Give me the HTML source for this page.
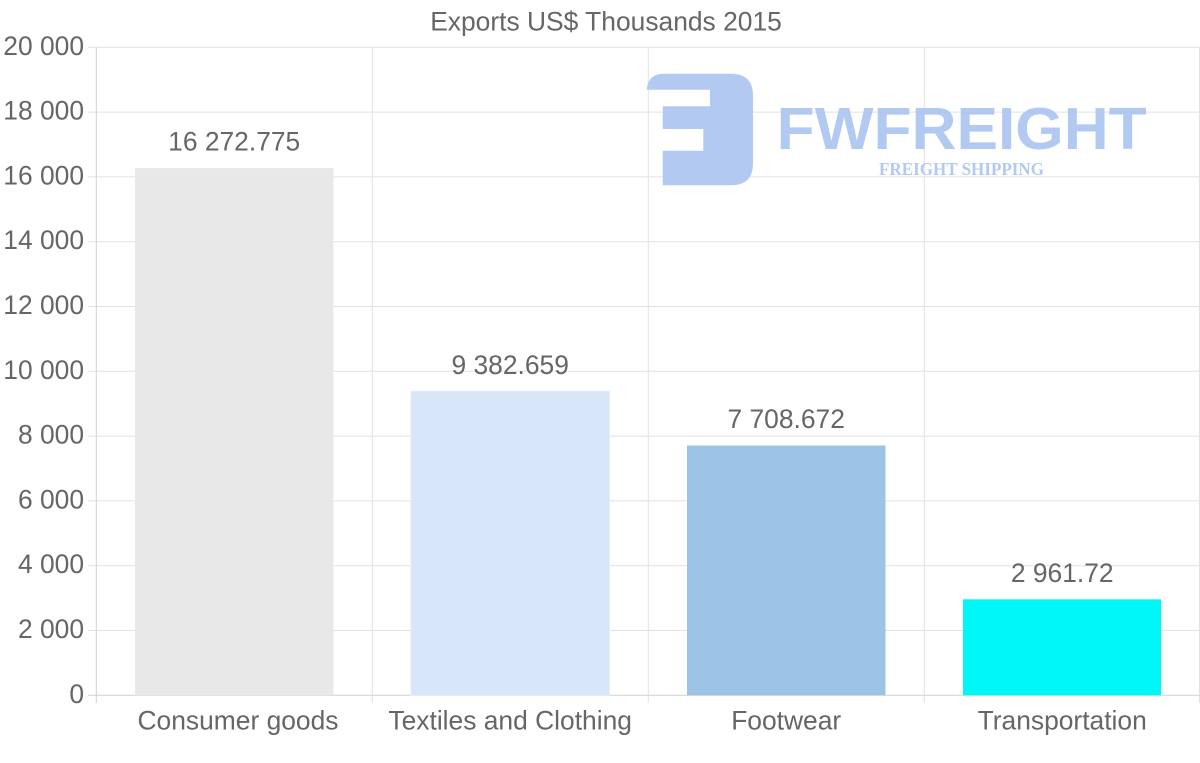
<!DOCTYPE html>
<html>
<head>
<meta charset="utf-8">
<style>
  html, body { margin: 0; padding: 0; background: #fff; }
  svg { display: block; }
  text { font-family: "Liberation Sans", Arial, sans-serif; fill: #666; }
</style>
</head>
<body>
<svg width="1200" height="763" viewBox="0 0 1200 763" xmlns="http://www.w3.org/2000/svg">
  <rect x="0" y="0" width="1200" height="763" fill="#fff"/>

  <!-- Title -->
  <text x="606" y="30.5" font-size="26.4" text-anchor="middle">Exports US$ Thousands 2015</text>

  <!-- Horizontal gridlines -->
  <g stroke="#e2e2e2" stroke-width="1">
    <line x1="88" y1="47.3" x2="1200" y2="47.3"/>
    <line x1="88" y1="112.1" x2="1200" y2="112.1"/>
    <line x1="88" y1="176.9" x2="1200" y2="176.9"/>
    <line x1="88" y1="241.7" x2="1200" y2="241.7"/>
    <line x1="88" y1="306.5" x2="1200" y2="306.5"/>
    <line x1="88" y1="371.3" x2="1200" y2="371.3"/>
    <line x1="88" y1="436.1" x2="1200" y2="436.1"/>
    <line x1="88" y1="500.9" x2="1200" y2="500.9"/>
    <line x1="88" y1="565.7" x2="1200" y2="565.7"/>
    <line x1="88" y1="630.5" x2="1200" y2="630.5"/>
  </g>
  <!-- Vertical gridlines -->
  <g stroke="#e2e2e2" stroke-width="1">
    <line x1="372.3" y1="47.3" x2="372.3" y2="703"/>
    <line x1="648.3" y1="47.3" x2="648.3" y2="703"/>
    <line x1="924.3" y1="47.3" x2="924.3" y2="703"/>
    <line x1="1199.5" y1="47.3" x2="1199.5" y2="703"/>
  </g>
  <!-- Axis lines -->
  <g stroke="#d0d0d0" stroke-width="1">
    <line x1="96.3" y1="47.3" x2="96.3" y2="703"/>
    <line x1="88" y1="695.3" x2="1200" y2="695.3"/>
  </g>

  <!-- Watermark logo -->
  <g opacity="0.95">
    <path d="M646.7,89.7 Q648,73.7 664,73.7 L731,73.7 Q753,73.7 753,95.7 L753,163.3 Q753,185.3 731,185.3 L662.7,185.3 L662.7,150.7 L703.3,150.7 L703.3,129 L662.7,129 L662.7,106.3 L710,106.3 L710,89.7 Z" fill="#aec7f1"/>
    <text x="776.7" y="149" font-size="59" font-weight="bold" textLength="370" lengthAdjust="spacingAndGlyphs" style="fill:#aec7f1">FWFREIGHT</text>
    <text x="879" y="175" font-size="17.5" font-weight="bold" textLength="165" lengthAdjust="spacingAndGlyphs" style="font-family:'Liberation Serif', serif; fill:#aec7f1">FREIGHT SHIPPING</text>
  </g>

  <!-- Bars -->
  <rect x="135" y="168.1" width="198.5" height="527.2" fill="#e8e8e8"/>
  <rect x="411" y="391.3" width="198.5" height="304" fill="#d7e7f9" stroke="#e2eefb" stroke-width="1"/>
  <rect x="687" y="445.5" width="198.5" height="249.8" fill="#9dc3e6"/>
  <rect x="963" y="599.3" width="198" height="96" fill="#00f7f7"/>

  <!-- Value labels -->
  <text x="234.2" y="150.6" font-size="26.4" text-anchor="middle">16 272.775</text>
  <text x="510.2" y="373.8" font-size="26.4" text-anchor="middle">9 382.659</text>
  <text x="786.2" y="428" font-size="26.4" text-anchor="middle">7 708.672</text>
  <text x="1062.2" y="581.8" font-size="26.4" text-anchor="middle">2 961.72</text>

  <!-- Y axis labels -->
  <g font-size="26.4" text-anchor="end">
    <text x="84" y="54.8">20 000</text>
    <text x="84" y="119.6">18 000</text>
    <text x="84" y="184.4">16 000</text>
    <text x="84" y="249.2">14 000</text>
    <text x="84" y="314">12 000</text>
    <text x="84" y="378.8">10 000</text>
    <text x="84" y="443.6">8 000</text>
    <text x="84" y="508.4">6 000</text>
    <text x="84" y="573.2">4 000</text>
    <text x="84" y="638">2 000</text>
    <text x="84" y="702.8">0</text>
  </g>

  <!-- X axis labels -->
  <g font-size="26.4" text-anchor="middle">
    <text x="238" y="729.5">Consumer goods</text>
    <text x="510.2" y="729.5">Textiles and Clothing</text>
    <text x="786.2" y="729.5">Footwear</text>
    <text x="1062.2" y="729.5">Transportation</text>
  </g>
</svg>
</body>
</html>
